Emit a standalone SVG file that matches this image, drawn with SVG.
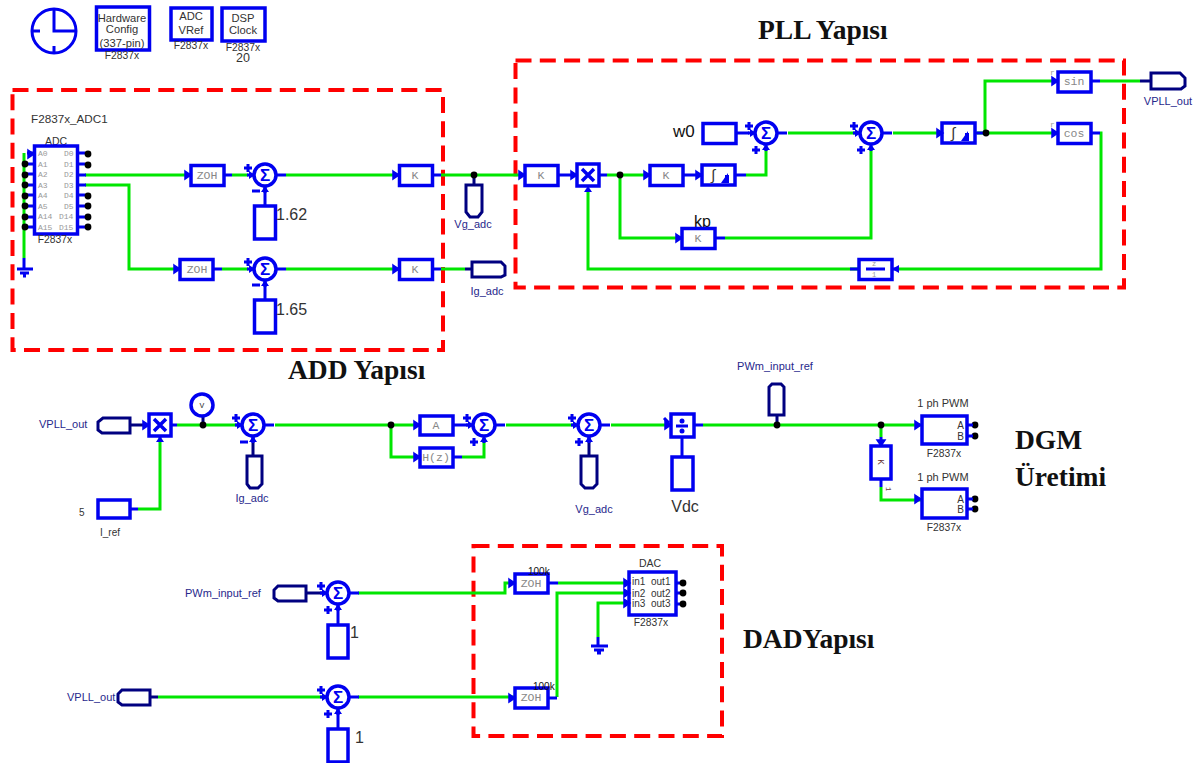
<svg xmlns="http://www.w3.org/2000/svg" width="1199" height="763" viewBox="0 0 1199 763">
<style>
text{font-family:"Liberation Sans",Arial,sans-serif;fill:#333}
.b{fill:#fff;stroke:#0000f0;stroke-width:3.5}
.bl{fill:none;stroke:#0000f0;stroke-width:3}
.g{fill:none;stroke:#00e600;stroke-width:3}
.nv{fill:none;stroke:#000080;stroke-width:3}
.red{fill:none;stroke:#f00;stroke-width:4;stroke-dasharray:16 8.3}
.lb{font-size:11px;fill:#27278c}
.sm{font-size:10px}
.t{font-size:11.2px}
.f{font-size:10.3px}
.m{font-size:16px}
.h{font-family:"Liberation Serif",serif;font-weight:bold;font-size:27.500px;fill:#111}
.k{font-family:"Liberation Mono",monospace;font-size:11.500px;fill:#888;text-anchor:middle}
.p{font-family:"Liberation Mono",monospace;font-size:8px;fill:#999}
.c{text-anchor:middle}
.d{fill:#000}
</style>
<defs>
<g id="sum"><circle class="b" r="11"/><text x="0" y="6" font-size="17" font-weight="bold" text-anchor="middle" style="fill:#0000f0">Σ</text><path class="bl" d="M-21-7h8M-17-11v8M-18 0H-11M0 18V11M11 0H21"/><path d="M-16-4L-10 0L-16 4zM-4 17L0 11L4 17z" fill="#0000f0"/></g>
<path id="plus" class="bl" d="M-4 0H4M0-4V4"/>
<path id="arr" d="M-6-4L0 0L-6 4z" fill="#0000f0" stroke="#0000f0" stroke-width="1.500"/>
<g id="mul"><rect class="b" x="-11" y="-11" width="22" height="22"/><path d="M-6-6L6 6M6-6L-6 6" stroke="#0000f0" stroke-width="3.500"/></g>
<g id="intg"><rect class="b" x="-17" y="-10" width="33" height="20"/><text x="-6" y="5" font-size="15" text-anchor="middle">∫</text><path d="M2 8L9-2V8z" fill="#0000f0"/><rect x="6" y="0" width="4" height="8" fill="#0000f0"/></g>
<circle id="dot" class="d" r="3.400"/>
</defs>

<g id="regions">
<rect class="red" x="12.500" y="90" width="430.500" height="260"/>
<rect class="red" x="515.500" y="60.500" width="608.500" height="227"/>
<rect class="red" x="473.500" y="546" width="248.500" height="190"/>
</g>

<g id="connectors">
<path class="g" d="M85 175H190M85 185H129V269H180M232 175H248M286 175H399M441 175H525M222 269H248"/>
<path class="g" d="M286 269H399M441 269H465"/>
<path class="g" d="M24 153V258"/>
<path class="g" d="M607 175H650M620 175V238H682M725 238H871V148M746 175H766V148M788 133H855M893 133H943M977 133H1058M985 133V81H1058M1100 81H1140M1100 133H1101V269H899M858 269H588V190"/>
<path class="g" d="M138 509H160V438M177 425H240M275 425H420M391 425V457H420M462 457H484V438M506 425H575M611 425H671M703 425H921M881 425V437M881 487V500H921"/>
<path class="g" d="M358 593H505V583H514M158 697H325M358 697H514M558 583H625M557 697V593H625M598 637V603H625"/>
<path class="bl" d="M85 153H77M85 164H77M85 195H77M85 206H77M85 217H77M85 227H77M78 175H86M78 185H86M27 153H34M27 164H34M27 174H34M27 185H34M27 195H34M27 206H34M27 217H34M27 227H34"/>
<path class="bl" d="M224 175H232M213 269H222M432 175H441M432 269H441M265 186V207M265 280V300M720 133H749M881 437V446M881 479V487"/>
<path class="bl" d="M558 175H578M599 175H607M683 175H703M735 175H746M682 437V458M338 604V625M338 708V730M171 425H177M160 436V438M130 509H138M453 425H470M453 457H462M694 425H703M975 133H985M1091 81H1100M1091 133H1100M548 583H558M548 698H557"/>
<path class="nv" d="M130 425H147M253 436V456M474 175V185M465 269H472M1140 81H1151M589 436V456M777 425V415M306 593H325M150 697H158"/>
</g>

<g id="clock"><circle cx="54" cy="31" r="22" fill="none" stroke="#0000f0" stroke-width="3"/><path class="bl" d="M54 9V31H77M33 31h7M54 46v7"/></g>
<g id="hwconfig"><rect class="b" x="96.500" y="7" width="53" height="43"/><text class="t c" x="122" y="22">Hardware</text><text class="t c" x="122" y="33">Config</text><text class="t c" x="122" y="47">(337-pin)</text><text class="f c" x="122" y="59">F2837x</text></g>
<g id="vref"><rect class="b" x="171" y="8" width="41" height="32"/><text class="t c" x="191" y="20">ADC</text><text class="t c" x="191" y="34">VRef</text><text class="f c" x="191" y="49">F2837x</text></g>
<g id="dspclock"><rect class="b" x="222" y="8" width="43" height="33"/><text class="t c" x="243" y="22">DSP</text><text class="t c" x="243" y="34">Clock</text><text class="f c" x="243" y="51">F2837x</text><text class="c" x="243" y="62" font-size="12.500">20</text></g>

<g id="adc">
<text x="31" y="123" font-size="11.700">F2837x_ADC1</text>
<text class="c" x="56" y="145" font-size="10.500">ADC</text>
<rect class="b" x="34.500" y="146" width="43" height="88"/>
<text class="p" x="38" y="156">A0</text><text class="p" x="38" y="167">A1</text><text class="p" x="38" y="177">A2</text><text class="p" x="38" y="188">A3</text><text class="p" x="38" y="198">A4</text><text class="p" x="38" y="209">A5</text><text class="p" x="38" y="219">A14</text><text class="p" x="38" y="230">A15</text>
<text class="p" x="64" y="156">D0</text><text class="p" x="64" y="167">D1</text><text class="p" x="64" y="177">D2</text><text class="p" x="64" y="188">D3</text><text class="p" x="64" y="198">D4</text><text class="p" x="64" y="209">D5</text><text class="p" x="59" y="219">D14</text><text class="p" x="59" y="230">D15</text>
<text class="f c" x="55" y="243">F2837x</text>
<use href="#dot" x="88" y="154"/><use href="#dot" x="88" y="165"/><use href="#dot" x="88" y="196"/><use href="#dot" x="88" y="206"/><use href="#dot" x="88" y="217"/><use href="#dot" x="88" y="227"/>
<use href="#dot" x="25" y="164"/><use href="#dot" x="25" y="175"/><use href="#dot" x="25" y="185"/><use href="#dot" x="25" y="196"/><use href="#dot" x="25" y="206"/><use href="#dot" x="25" y="217"/><use href="#dot" x="25" y="227"/>
<use href="#arr" x="34" y="154"/>
</g>
<g id="ground1"><path class="bl" d="M24 258V268M17 269H33M20 273H29M23 276H26"/></g>

<g id="zoh1"><rect class="b" x="191" y="165.500" width="33" height="20"/><text class="k" x="207" y="179">ZOH</text><use href="#arr" x="191" y="175"/></g>
<g id="zoh2"><rect class="b" x="180" y="259.500" width="33" height="20"/><text class="k" x="197" y="273">ZOH</text><use href="#arr" x="180" y="269"/></g>
<g id="sum1"><use href="#sum" x="265" y="175"/><path class="bl" d="M252 191h8"/></g>
<g id="sum2"><use href="#sum" x="265" y="269"/><path class="bl" d="M252 285h8"/></g>
<g id="c162"><rect class="b" x="254.500" y="206" width="21" height="33"/><text class="m" x="276" y="220">1.62</text></g>
<g id="c165"><rect class="b" x="254.500" y="300" width="21" height="33"/><text class="m" x="276" y="315">1.65</text></g>
<g id="k1"><rect class="b" x="399.500" y="165.500" width="33" height="20"/><text class="k" x="415" y="179">K</text><use href="#arr" x="399" y="175"/></g>
<g id="k2"><rect class="b" x="399.500" y="259.500" width="33" height="20"/><text class="k" x="415" y="273">K</text><use href="#arr" x="399" y="269"/></g>
<g id="vg_adc"><use href="#dot" x="474" y="175"/><path class="nv" d="M466 185V212L470 217H478L482 212V185Z"/><text class="lb c" x="473" y="228">Vg_adc</text></g>
<g id="ig_adc"><path class="nv" d="M472 262H501L505 266V275L501 277H472Z"/><text class="lb c" x="487" y="295">Ig_adc</text></g>

<g id="k3"><rect class="b" x="525" y="165.500" width="33" height="20"/><text class="k" x="541" y="179">K</text><use href="#arr" x="525" y="175"/></g>
<g id="mul1"><use href="#mul" x="588" y="175"/><use href="#arr" x="577" y="175"/><path d="M584 192L588 186L592 192z" fill="#0000f0"/><use href="#dot" x="620" y="175"/></g>
<g id="k4"><rect class="b" x="650" y="165.500" width="33" height="20"/><text class="k" x="666" y="179">K</text><use href="#arr" x="650" y="175"/></g>
<g id="int1"><use href="#intg" x="719" y="175"/><use href="#arr" x="702" y="175"/></g>
<g id="w0"><text x="673" y="137" font-size="17" style="fill:#111">w0</text><rect class="b" x="703" y="123.500" width="33" height="20"/></g>
<g id="sum3"><use href="#sum" x="766" y="133"/><use href="#plus" x="756" y="150"/></g>
<g id="kp"><text x="694" y="227" font-size="16" style="fill:#111">kp</text><rect class="b" x="682" y="228.500" width="33" height="20"/><text class="k" x="698" y="242">K</text><use href="#arr" x="682" y="238"/><path class="bl" d="M715 238H725"/></g>
<g id="sum4"><use href="#sum" x="871" y="133"/><use href="#plus" x="861" y="150"/></g>
<g id="int2"><use href="#intg" x="959" y="133"/><use href="#arr" x="943" y="133"/><use href="#dot" x="986" y="133"/></g>
<g id="sin"><rect class="b" x="1058" y="72" width="33" height="20"/><text class="k" x="1074" y="85">sin</text><use href="#arr" x="1058" y="81"/><text class="p" x="1050" y="75">r</text></g>
<g id="cos"><rect class="b" x="1058" y="123.500" width="33" height="20"/><text class="k" x="1074" y="137">cos</text><use href="#arr" x="1058" y="133"/><text class="p" x="1050" y="127">r</text></g>
<g id="delay"><rect class="b" x="859" y="259.500" width="33" height="20"/><path class="bl" d="M866 269H885M850 269H859M893 269H899"/><text class="p c" x="874" y="266" style="font-size:7px">z</text><text class="p c" x="874" y="277" style="font-size:7px">1</text><path d="M899 265L892 269L899 273z" fill="#0000f0"/></g>
<g id="vpll_out1"><path class="nv" d="M1151 73H1180L1185 78V86L1181 89H1151Z"/><text class="lb c" x="1168" y="105">VPLL_out</text></g>

<g id="vpll_in"><text class="lb" x="39" y="428">VPLL_out</text><path class="nv" d="M130 418H103L98 422V430L102 433H130Z"/></g>
<g id="mul2"><use href="#mul" x="160" y="425"/><use href="#arr" x="149" y="425"/><path d="M156 442L160 436L164 442z" fill="#0000f0"/></g>
<g id="i_ref"><text class="sm" x="79" y="516">5</text><rect class="b" x="98" y="500" width="32" height="18"/><text class="sm c" x="110" y="536">I_ref</text></g>
<g id="vprobe"><path d="M203 425V415" stroke="#000080" stroke-width="3"/><circle class="b" cx="202" cy="405" r="11"/><text class="k" x="202" y="408" style="font-size:8px;fill:#333">V</text><use href="#dot" x="203" y="425"/></g>
<g id="sum5"><use href="#sum" x="253" y="425"/><path class="bl" d="M240 442h8"/></g>
<g id="ig_in"><path class="nv" d="M247 456V484L250 488H258L262 484V456Z"/><text class="lb c" x="252" y="502">Ig_adc</text></g>
<g id="gain_a"><use href="#dot" x="391" y="425"/><rect class="b" x="420" y="416" width="33" height="19"/><text class="k" x="436" y="429">A</text><use href="#arr" x="420" y="425"/></g>
<g id="hz"><rect class="b" x="420" y="448" width="33" height="19"/><text class="k" x="436" y="461">H(z)</text><use href="#arr" x="420" y="457"/></g>
<g id="sum6"><use href="#sum" x="484" y="425"/><use href="#plus" x="474" y="442"/></g>
<g id="sum7"><use href="#sum" x="589" y="425"/><use href="#plus" x="579" y="442"/></g>
<g id="vg_in"><path class="nv" d="M581 456V484L585 488H593L597 484V456Z"/><text class="lb c" x="594" y="513">Vg_adc</text></g>
<g id="div"><rect class="b" x="671" y="414" width="23" height="23"/><circle cx="682" cy="421" r="2.500" fill="#0000f0"/><circle cx="682" cy="431" r="2.500" fill="#0000f0"/><path class="bl" d="M676 426H688"/><use href="#arr" x="671" y="425"/><path class="bl" d="M664 418L669 423"/></g>
<g id="vdc"><rect class="b" x="672" y="457" width="21" height="33"/><text class="m c" x="685" y="512">Vdc</text></g>
<g id="pwm_ref"><text class="lb c" x="775" y="370">PWm_input_ref</text><path class="nv" d="M769 415V387L772 384H781L784 387V415Z"/><use href="#dot" x="777" y="425"/></g>
<g id="pwm1"><text class="c" x="943" y="407" font-size="11">1 ph PWM</text><rect class="b" x="922" y="416" width="45" height="28"/><text class="sm" x="964" y="429" text-anchor="end">A</text><text class="sm" x="964" y="440" text-anchor="end">B</text><text class="f c" x="944" y="457">F2837x</text><use href="#dot" x="975" y="425"/><use href="#dot" x="975" y="436"/><path class="bl" d="M967 425H973M967 436H973"/><use href="#arr" x="921" y="425"/></g>
<g id="pwm2"><text class="c" x="943" y="481" font-size="11">1 ph PWM</text><rect class="b" x="922" y="489" width="45" height="29"/><text class="sm" x="964" y="503" text-anchor="end">A</text><text class="sm" x="964" y="513" text-anchor="end">B</text><text class="f c" x="944" y="531">F2837x</text><use href="#dot" x="975" y="499"/><use href="#dot" x="975" y="509"/><path class="bl" d="M967 499H973M967 509H973"/><use href="#arr" x="921" y="499"/></g>
<g id="kv"><use href="#dot" x="881" y="425"/><rect class="b" x="871" y="446" width="20" height="33"/><text class="k" transform="rotate(90 881 462)" x="881" y="465" style="font-size:9px;fill:#633">K</text><text class="p" transform="rotate(90 886 487)" x="886" y="487" style="font-size:7px;fill:#633">1</text><use href="#arr" transform="translate(881 446) rotate(90)"/></g>

<g id="pwm_in2"><text class="lb" x="185" y="597">PWm_input_ref</text><path class="nv" d="M306 586H278L274 590V598L278 601H306Z"/></g>
<g id="sum8"><use href="#sum" x="338" y="593"/><use href="#plus" x="328" y="610"/></g>
<g id="c1a"><rect class="b" x="328" y="625" width="20" height="33"/><text class="m" x="350" y="638">1</text></g>
<g id="vpll_in2"><text class="lb" x="67" y="701">VPLL_out</text><path class="nv" d="M150 690H122L118 694V702L122 705H150Z"/></g>
<g id="sum9"><use href="#sum" x="338" y="697"/><use href="#plus" x="328" y="714"/></g>
<g id="c1b"><rect class="b" x="328" y="729" width="20" height="33"/><text class="m" x="355" y="743">1</text></g>
<g id="zoh3"><rect class="b" x="515" y="574" width="33" height="19"/><text class="k" x="531" y="587">ZOH</text><text class="sm" x="528" y="575" style="fill:#111">100k</text><use href="#arr" x="515" y="583"/></g>
<g id="zoh4"><rect class="b" x="515" y="688" width="33" height="20"/><text class="k" x="531" y="701">ZOH</text><text class="sm" x="533" y="690" style="fill:#111">100k</text><use href="#arr" x="515" y="698"/></g>
<g id="dac"><text class="c" x="650" y="567" font-size="10.500">DAC</text><rect class="b" x="629" y="572" width="47" height="43"/><text class="sm" x="632" y="585">in1</text><text class="sm" x="632" y="597">in2</text><text class="sm" x="632" y="607">in3</text><text class="sm" x="651" y="585">out1</text><text class="sm" x="651" y="597">out2</text><text class="sm" x="651" y="607">out3</text><text class="f c" x="651" y="626">F2837x</text>
<path class="bl" d="M676 583H682M676 593H682M676 604H682"/><use href="#dot" x="683" y="583"/><use href="#dot" x="683" y="593"/><use href="#dot" x="683" y="604"/><use href="#arr" x="630" y="583"/><use href="#arr" x="630" y="593"/><use href="#arr" x="630" y="603"/></g>
<g id="ground2"><path class="bl" d="M598 637V646M591 646H608M594 650H604M597 653H601"/></g>

<text class="h" x="758" y="39">PLL Yapısı</text>
<text class="h" x="288" y="379">ADD Yapısı</text>
<text class="h" x="1015" y="449">DGM</text>
<text class="h" x="1015" y="486">Üretimi</text>
<text class="h" x="743" y="648">DADYapısı</text>
</svg>
